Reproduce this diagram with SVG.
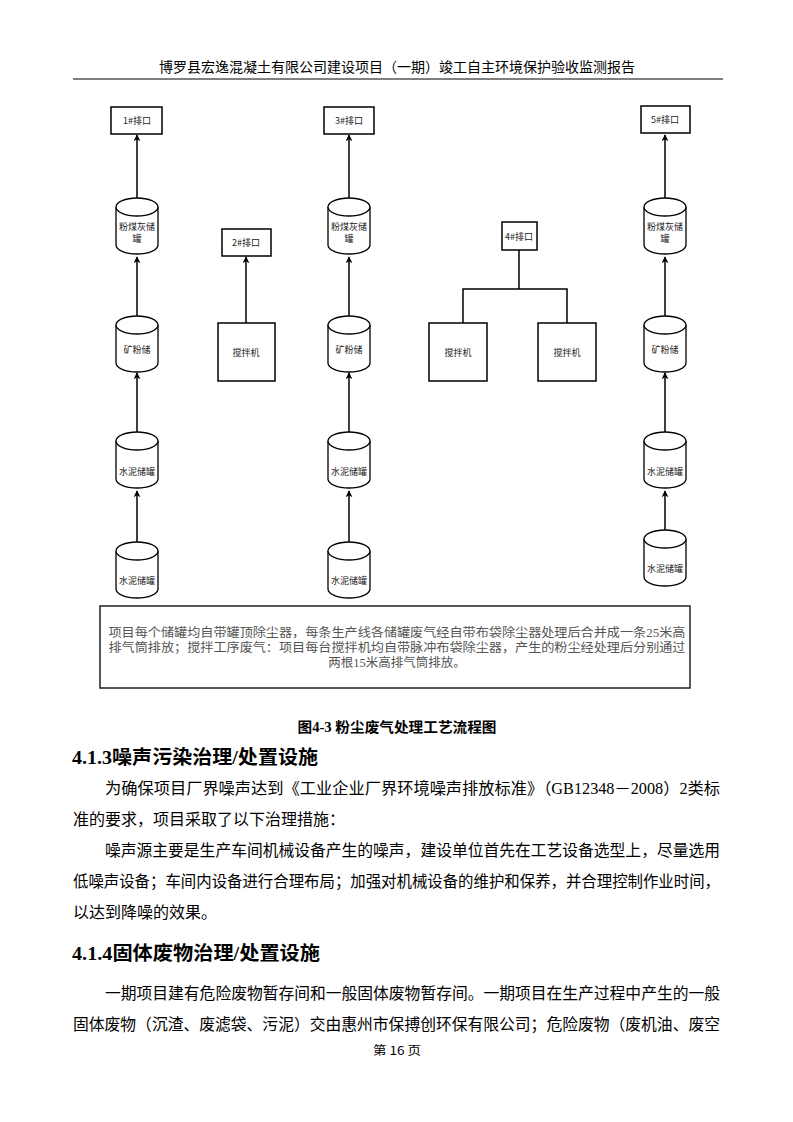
<svg xmlns="http://www.w3.org/2000/svg" xmlns:xlink="http://www.w3.org/1999/xlink" width="793" height="1122" viewBox="0 0 793 1122">
<style>
.bg{fill:#fff}
.box{fill:#fff;stroke:#000;stroke-width:1.5}
.cyl{fill:#fff;stroke:#000;stroke-width:1.3}
.lbl{font-family:"Noto Sans CJK SC",sans-serif;font-size:9px;fill:#222;text-anchor:middle}
.con{fill:none;stroke:#000;stroke-width:1.5}
.hdr{font-family:"Noto Sans CJK SC",sans-serif;font-size:14px;fill:#000;text-anchor:middle}
.note{font-family:"Liberation Serif","Noto Sans CJK SC",serif;font-size:12.5px;fill:#555;text-anchor:middle}
.cap{font-family:"Liberation Serif","Noto Sans CJK SC",serif;font-size:14px;font-weight:bold;fill:#000;text-anchor:middle}
.h2{font-family:"Liberation Serif","Noto Sans CJK SC",serif;font-size:19px;font-weight:bold;fill:#000}
.body{font-family:"Liberation Serif","Noto Sans CJK SC",serif;font-size:16px;fill:#000}
.foot{font-family:"Noto Sans CJK SC",sans-serif;font-size:12px;fill:#000;text-anchor:middle}
</style>
<defs>
<marker id="arr" viewBox="0 0 10 10" refX="9" refY="5" markerWidth="7" markerHeight="7" orient="auto" markerUnits="userSpaceOnUse">
<path d="M0,0 L10,5 L0,10 L3,5 Z" fill="#000"/>
</marker>
<g id="cyl">
<path class="cyl" d="M-21,9 A21,9 0 0 1 21,9 V47 A21,9 0 0 1 -21,47 Z"/>
<path class="cyl" d="M-21,9 A21,9 0 0 0 21,9"/>
</g>
</defs>
<rect class="bg" x="0" y="0" width="793" height="1122"/>
<g id="header">
<text class="hdr" x="397" y="72" textLength="476" lengthAdjust="spacingAndGlyphs">博罗县宏逸混凝土有限公司建设项目（一期）竣工自主环境保护验收监测报告</text>
<line x1="73" y1="79" x2="723" y2="79" stroke="#000" stroke-width="1"/>
</g>
<g id="connectors">
<line class="con" x1="137" y1="198" x2="137" y2="135" marker-end="url(#arr)"/>
<line class="con" x1="137" y1="316" x2="137" y2="257" marker-end="url(#arr)"/>
<line class="con" x1="137" y1="432" x2="137" y2="373" marker-end="url(#arr)"/>
<line class="con" x1="137" y1="542" x2="137" y2="491" marker-end="url(#arr)"/>
<line class="con" x1="246" y1="323" x2="246" y2="257" marker-end="url(#arr)"/>
<line class="con" x1="349" y1="198" x2="349" y2="135" marker-end="url(#arr)"/>
<line class="con" x1="349" y1="316" x2="349" y2="257" marker-end="url(#arr)"/>
<line class="con" x1="349" y1="432" x2="349" y2="373" marker-end="url(#arr)"/>
<line class="con" x1="349" y1="542" x2="349" y2="491" marker-end="url(#arr)"/>
<path class="con" d="M519,250 V289 M463,323 V289 H567 V323"/>
<line class="con" x1="665" y1="198" x2="665" y2="135" marker-end="url(#arr)"/>
<line class="con" x1="665" y1="316" x2="665" y2="257" marker-end="url(#arr)"/>
<line class="con" x1="665" y1="432" x2="665" y2="373" marker-end="url(#arr)"/>
<line class="con" x1="665" y1="530" x2="665" y2="491" marker-end="url(#arr)"/>
</g>
<g id="out1"><rect class="box" x="111" y="107" width="51" height="27"/><text class="lbl" x="137" y="124">1#排口</text></g>
<g id="c1a"><use xlink:href="#cyl" x="137" y="198"/><text class="lbl" x="137" y="230">粉煤灰储</text><text class="lbl" x="137" y="242">罐</text></g>
<g id="c1b"><use xlink:href="#cyl" x="137" y="316"/><text class="lbl" x="137" y="353">矿粉储</text></g>
<g id="c1c"><use xlink:href="#cyl" x="137" y="432"/><text class="lbl" x="137" y="475">水泥储罐</text></g>
<g id="c1d"><use xlink:href="#cyl" x="137" y="542"/><text class="lbl" x="137" y="584">水泥储罐</text></g>
<g id="out2"><rect class="box" x="222" y="229" width="49" height="27"/><text class="lbl" x="246" y="246">2#排口</text></g>
<g id="mix1"><rect class="box" x="218" y="323" width="57" height="58"/><text class="lbl" x="246" y="356">搅拌机</text></g>
<g id="out3"><rect class="box" x="324" y="107" width="50" height="27"/><text class="lbl" x="349" y="124">3#排口</text></g>
<g id="c3a"><use xlink:href="#cyl" x="349" y="198"/><text class="lbl" x="349" y="230">粉煤灰储</text><text class="lbl" x="349" y="242">罐</text></g>
<g id="c3b"><use xlink:href="#cyl" x="349" y="316"/><text class="lbl" x="349" y="353">矿粉储</text></g>
<g id="c3c"><use xlink:href="#cyl" x="349" y="432"/><text class="lbl" x="349" y="475">水泥储罐</text></g>
<g id="c3d"><use xlink:href="#cyl" x="349" y="542"/><text class="lbl" x="349" y="584">水泥储罐</text></g>
<g id="out4"><rect class="box" x="502" y="222" width="35" height="28"/><text class="lbl" x="519" y="240">4#排口</text></g>
<g id="mix2"><rect class="box" x="429" y="323" width="58" height="58"/><text class="lbl" x="458" y="356">搅拌机</text></g>
<g id="mix3"><rect class="box" x="538" y="323" width="58" height="58"/><text class="lbl" x="567" y="356">搅拌机</text></g>
<g id="out5"><rect class="box" x="641" y="106" width="49" height="27"/><text class="lbl" x="665" y="123">5#排口</text></g>
<g id="c5a"><use xlink:href="#cyl" x="665" y="198"/><text class="lbl" x="665" y="230">粉煤灰储</text><text class="lbl" x="665" y="242">罐</text></g>
<g id="c5b"><use xlink:href="#cyl" x="665" y="316"/><text class="lbl" x="665" y="353">矿粉储</text></g>
<g id="c5c"><use xlink:href="#cyl" x="665" y="432"/><text class="lbl" x="665" y="475">水泥储罐</text></g>
<g id="c5d"><use xlink:href="#cyl" x="665" y="530"/><text class="lbl" x="665" y="572">水泥储罐</text></g>
<g id="note">
<rect x="100" y="606" width="590" height="82" fill="#fff" stroke="#222" stroke-width="1.5"/>
<text class="note" x="397" y="637" textLength="577" lengthAdjust="spacingAndGlyphs">项目每个储罐均自带罐顶除尘器，每条生产线各储罐废气经自带布袋除尘器处理后合并成一条25米高</text>
<text class="note" x="397" y="652" textLength="577" lengthAdjust="spacingAndGlyphs">排气筒排放；搅拌工序废气：项目每台搅拌机均自带脉冲布袋除尘器，产生的粉尘经处理后分别通过</text>
<text class="note" x="397" y="667">两根15米高排气筒排放。</text>
</g>
<g id="text">
<text class="cap" x="397" y="732" textLength="199" lengthAdjust="spacingAndGlyphs">图4-3 粉尘废气处理工艺流程图</text>
<text class="h2" x="72" y="764" textLength="246" lengthAdjust="spacingAndGlyphs">4.1.3噪声污染治理/处置设施</text>
<text class="body" x="105" y="794" textLength="615" lengthAdjust="spacingAndGlyphs">为确保项目厂界噪声达到《工业企业厂界环境噪声排放标准》（GB12348－2008）2类标</text>
<text class="body" x="73" y="825">准的要求，项目采取了以下治理措施：</text>
<text class="body" x="105" y="856" textLength="615" lengthAdjust="spacingAndGlyphs">噪声源主要是生产车间机械设备产生的噪声，建设单位首先在工艺设备选型上，尽量选用</text>
<text class="body" x="73" y="887" textLength="647" lengthAdjust="spacingAndGlyphs">低噪声设备；车间内设备进行合理布局；加强对机械设备的维护和保养，并合理控制作业时间，</text>
<text class="body" x="73" y="918">以达到降噪的效果。</text>
<text class="h2" x="72" y="960" textLength="248" lengthAdjust="spacingAndGlyphs">4.1.4固体废物治理/处置设施</text>
<text class="body" x="105" y="999" textLength="615" lengthAdjust="spacingAndGlyphs">一期项目建有危险废物暂存间和一般固体废物暂存间。一期项目在生产过程中产生的一般</text>
<text class="body" x="73" y="1030" textLength="647" lengthAdjust="spacingAndGlyphs">固体废物（沉渣、废滤袋、污泥）交由惠州市保搏创环保有限公司；危险废物（废机油、废空</text>
<text class="foot" x="397" y="1055" textLength="48" lengthAdjust="spacingAndGlyphs">第 16 页</text>
</g>
</svg>
